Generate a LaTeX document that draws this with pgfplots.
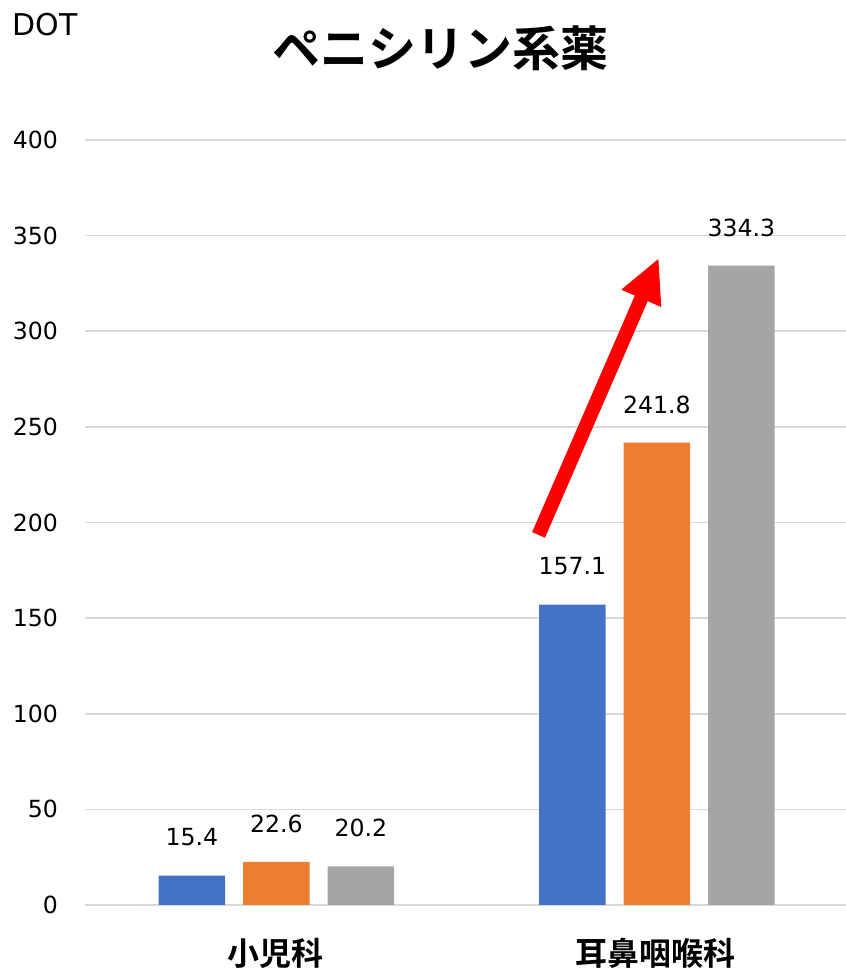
\documentclass[border=0pt]{standalone}
\usepackage{fontspec}
\setmainfont{DejaVu Sans}
\newfontfamily\jp{Noto Sans CJK JP}[BoldFont={Noto Sans CJK JP Bold}]
\usepackage{pgfplots}
\pgfplotsset{compat=1.18}
\usetikzlibrary{arrows.meta}
\definecolor{c1}{HTML}{4472C4}
\definecolor{c2}{HTML}{ED7D31}
\definecolor{c3}{HTML}{A5A5A5}
\definecolor{gridc}{HTML}{D9D9D9}
\begin{document}
\begin{tikzpicture}
\useasboundingbox (0,0) rectangle (423pt,485pt);
\begin{axis}[
  at={(42.5pt,32.5pt)}, anchor=south west,
  scale only axis, width=380.5pt, height=382.5pt,
  ymin=0, ymax=400, ytick={0,50,...,400},
  xmin=-0.5, xmax=1.5, xtick={0,1},
  xticklabels={\jp\bfseries 小児科, \jp\bfseries 耳鼻咽喉科},
  xticklabel style={font=\fontsize{16}{16}\selectfont, yshift=-13pt},
  yticklabel style={font=\fontsize{11.8}{12}\selectfont, xshift=-10pt},
  /pgf/number format/assume math mode=true,
  axis line style={draw=none},
  major tick length=0pt,
  ymajorgrids, grid style={gridc, line width=0.8pt},
  ybar, bar width=0.175,
  nodes near coords,
  every node near coord/.append style={font=\fontsize{11.8}{12}\selectfont, anchor=center, yshift=19pt, /pgf/number format/.cd, fixed, fixed zerofill, precision=1, assume math mode=true},
  clip=false,
]
\addplot[fill=c1, draw=none, bar shift=-0.219] coordinates {(0,15.4) (1,157.1)};
\addplot[fill=c2, draw=none, bar shift=0.003] coordinates {(0,22.6) (1,241.8)};
\addplot[fill=c3, draw=none, bar shift=0.225] coordinates {(0,20.2) (1,334.3)};
\draw[red, line width=7pt, -{Triangle[length=22pt,width=20pt]}] (axis cs:0.692,193.5) -- (axis cs:1.008,338.3);
\end{axis}
\node[anchor=west, inner sep=0pt, font=\fontsize{15}{15}\selectfont] at (6pt,472.5pt) {DOT};
\node[font=\fontsize{24}{24}\selectfont\jp\bfseries] at (220pt,461pt) {ペニシリン系薬};
\end{tikzpicture}
\end{document}
